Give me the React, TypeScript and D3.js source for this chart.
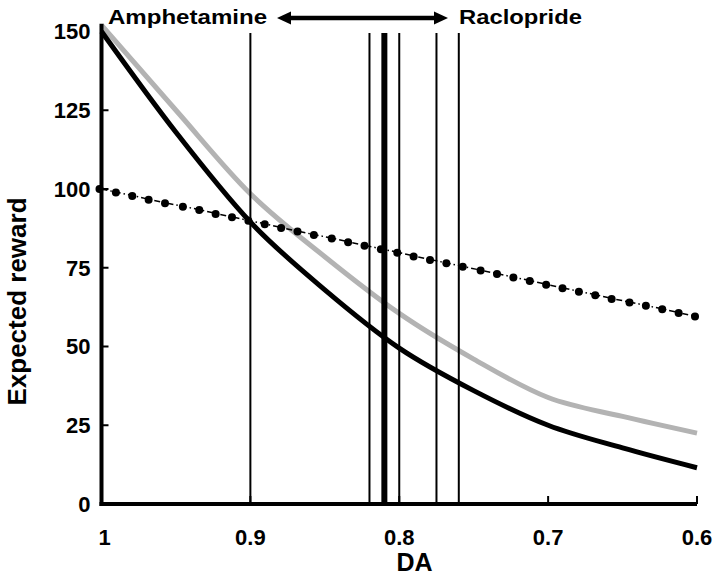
import React from "react";
import * as d3 from "d3";

// Curve sample points (DA value -> expected reward)
const curveDA = [1, 0.95, 0.9, 0.85, 0.8, 0.75, 0.7, 0.65, 0.6];
const blackValues = [150, 118, 89.5, 68, 49.5, 36, 25, 17.8, 11.5];
const greyValues = [152, 125, 98.5, 78.5, 60.5, 46, 33.8, 27.8, 22.5];

// Dotted series
const dotDA = [1, 0.989, 0.978, 0.967, 0.956, 0.944, 0.933, 0.922, 0.911, 0.9, 0.889, 0.878, 0.867, 0.856, 0.844, 0.833, 0.822, 0.811, 0.8, 0.789, 0.778, 0.767, 0.756, 0.744, 0.733, 0.722, 0.711, 0.7, 0.689, 0.678, 0.667, 0.656, 0.644, 0.633, 0.622, 0.611, 0.6];
const dotValues = [100, 98.9, 97.8, 96.6, 95.5, 94.4, 93.3, 92.1, 91, 89.9, 88.8, 87.6, 86.5, 85.4, 84.3, 83.1, 82, 80.9, 79.8, 78.6, 77.5, 76.4, 75.3, 74.1, 73, 71.9, 70.8, 69.6, 68.5, 67.4, 66.3, 65.1, 64, 62.9, 61.8, 60.6, 59.5];

// Vertical marker lines (DA) and whether thick
const markerDA = [0.9, 0.82, 0.81, 0.8, 0.775, 0.76];
const markerThick = [false, false, true, false, false, false];

const xTicks = [1, 0.9, 0.8, 0.7, 0.6];
const xTickLabels = ["1", "0.9", "0.8", "0.7", "0.6"];
const yTicks = [0, 25, 50, 75, 100, 125, 150];

const FONT = "'Liberation Sans', Arial, sans-serif";

export default function App() {
  const W = 720, H = 577;
  const x = d3.scaleLinear().domain([1, 0.6]).range([101.5, 697]);
  const y = d3.scaleLinear().domain([0, 150]).range([504, 31.5]);

  const line = d3
    .line<[number, number]>()
    .x((d) => x(d[0]))
    .y((d) => y(d[1]))
    .curve(d3.curveMonotoneX);

  const blackPts: [number, number][] = curveDA.map((d, i) => [d, blackValues[i]]);
  const greyPts: [number, number][] = curveDA.map((d, i) => [d, greyValues[i]]);
  const dotPts: [number, number][] = dotDA.map((d, i) => [d, dotValues[i]]);
  const straight = d3
    .line<[number, number]>()
    .x((d) => x(d[0]))
    .y((d) => y(d[1]));

  const arrowY = 18;
  const arrowL = 277;
  const arrowR = 448;

  return (
    <svg
      width={W}
      height={H}
      style={{ position: "absolute", left: 0, top: 0, background: "#fff" }}
      fontFamily={FONT}
    >
      <rect x={0} y={0} width={W} height={H} fill="#fff" />

      {/* curves */}
      <path d={line(greyPts) || ""} fill="none" stroke="#b3b3b3" strokeWidth={5} />
      <path d={line(blackPts) || ""} fill="none" stroke="#000" strokeWidth={5} />

      {/* dotted series */}
      <path
        d={straight(dotPts) || ""}
        fill="none"
        stroke="#000"
        strokeWidth={1.5}
        strokeDasharray="6,3,1.5,3"
      />
      {dotPts.map((d, i) => (
        <circle key={i} cx={x(d[0]) - 2} cy={y(d[1])} r={4} fill="#000" />
      ))}

      {/* vertical markers */}
      {markerDA.map((d, i) => (
        <line
          key={i}
          x1={x(d)}
          x2={x(d)}
          y1={y(0)}
          y2={y(149.5)}
          stroke="#000"
          strokeWidth={markerThick[i] ? 6 : 2}
        />
      ))}

      {/* axes */}
      <line x1={x(1)} x2={x(1)} y1={y(0) + 2} y2={y(152.5)} stroke="#000" strokeWidth={4} />
      <line x1={x(1) - 2} x2={x(0.6)} y1={y(0)} y2={y(0)} stroke="#000" strokeWidth={4} />
      {yTicks
        .filter((t) => t > 0 && t < 150)
        .map((t) => (
          <line key={t} x1={x(1)} x2={x(1) + 7} y1={y(t)} y2={y(t)} stroke="#000" strokeWidth={2} />
        ))}
      {xTicks
        .filter((t) => t < 1)
        .map((t) => (
          <line key={t} x1={x(t)} x2={x(t)} y1={y(0)} y2={y(0) - 8} stroke="#000" strokeWidth={2} />
        ))}

      {/* tick labels */}
      {yTicks.map((t) => (
        <text
          key={t}
          x={x(1) - 11}
          y={y(t)}
          dy="0.36em"
          textAnchor="end"
          fontSize={22}
          fontWeight="bold"
        >
          {t}
        </text>
      ))}
      {xTicks.map((t, i) => (
        <text
          key={t}
          x={x(t) + (i === 0 ? 3 : 0)}
          y={545}
          textAnchor="middle"
          fontSize={22}
          fontWeight="bold"
        >
          {xTickLabels[i]}
        </text>
      ))}

      {/* axis titles */}
      <text x={414.5} y={571} textAnchor="middle" fontSize={25} fontWeight="bold">
        DA
      </text>
      <text
        transform="translate(26,301.5) rotate(-90)"
        textAnchor="middle"
        fontSize={26}
        fontWeight="bold"
      >
        Expected reward
      </text>

      {/* annotation */}
      <text
        x={108}
        y={24}
        fontSize={21}
        fontWeight="bold"
        textLength={159}
        lengthAdjust="spacingAndGlyphs"
      >
        Amphetamine
      </text>
      <text
        x={459}
        y={24}
        fontSize={21}
        fontWeight="bold"
        textLength={123}
        lengthAdjust="spacingAndGlyphs"
      >
        Raclopride
      </text>
      <line x1={arrowL + 10} x2={arrowR - 10} y1={arrowY} y2={arrowY} stroke="#000" strokeWidth={4.5} />
      <path
        d={`M${arrowL},${arrowY} L${arrowL + 14},${arrowY - 6.5} L${arrowL + 14},${arrowY + 6.5} Z`}
        fill="#000"
      />
      <path
        d={`M${arrowR},${arrowY} L${arrowR - 14},${arrowY - 6.5} L${arrowR - 14},${arrowY + 6.5} Z`}
        fill="#000"
      />
    </svg>
  );
}
